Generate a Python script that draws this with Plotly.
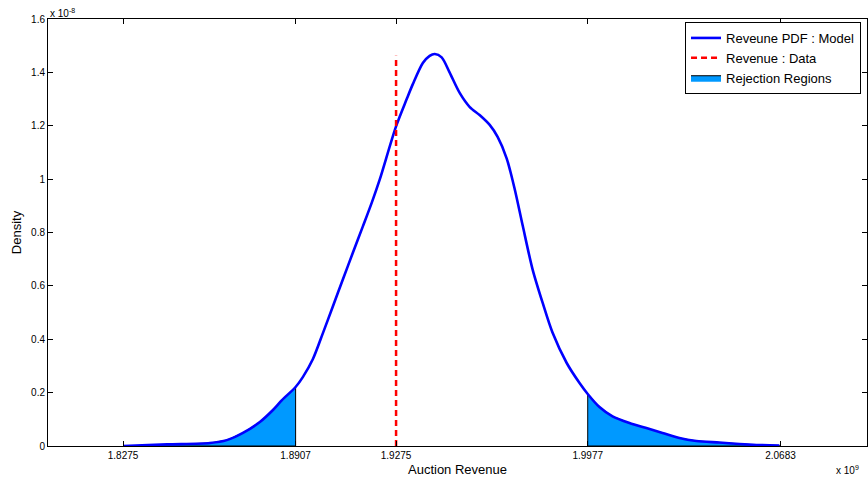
import plotly.graph_objects as go

# Revenue in units of 1e9, density in units of 1e-8
revenue = [1.8275, 1.8436, 1.8593, 1.8655, 1.8714, 1.8776, 1.8824, 1.8857, 1.8907,
           1.8934, 1.8970, 1.9007, 1.9043, 1.9080, 1.9117, 1.9153, 1.9186, 1.9215,
           1.9274, 1.9314, 1.9336, 1.9373, 1.9398, 1.9417, 1.9442, 1.9471, 1.9508,
           1.9545, 1.9581, 1.9618, 1.9647, 1.9680, 1.9709, 1.9739, 1.9775, 1.9812,
           1.9848, 1.9900, 1.9947, 1.9977, 2.0020, 2.0068, 2.0130, 2.0192, 2.0251,
           2.0313, 2.0375, 2.0459, 2.0533, 2.0595, 2.0679]
density = [0.000, 0.006, 0.011, 0.022, 0.049, 0.090, 0.135, 0.172, 0.221,
           0.259, 0.325, 0.423, 0.522, 0.624, 0.725, 0.822, 0.912, 0.998,
           1.195, 1.300, 1.355, 1.435, 1.462, 1.469, 1.456, 1.400, 1.323,
           1.270, 1.240, 1.203, 1.158, 1.078, 0.965, 0.825, 0.662, 0.536,
           0.425, 0.311, 0.236, 0.195, 0.146, 0.111, 0.086, 0.067, 0.049,
           0.030, 0.019, 0.013, 0.0075, 0.004, 0.002]

data_revenue = 1.9275
data_line_top = 1.4625
lower_cut = 1.8907
upper_cut = 1.9977

x_tickvals = [1.8275, 1.8907, 1.9275, 1.9977, 2.0683]
x_ticktext = ["1.8275", "1.8907", "1.9275", "1.9977", "2.0683"]
y_tickvals = [0, 0.2, 0.4, 0.6, 0.8, 1.0, 1.2, 1.4, 1.6]
y_ticktext = ["0", "0.2", "0.4", "0.6", "0.8", "1", "1.2", "1.4", "1.6"]

FONT = "Liberation Sans, Arial, Helvetica, sans-serif"
FILL = "#0099FF"

# Rejection region polygons built from the data
lx = [x for x in revenue if x <= lower_cut]
ly = [y for x, y in zip(revenue, density) if x <= lower_cut]
rx = [x for x in revenue if x >= upper_cut]
ry = [y for x, y in zip(revenue, density) if x >= upper_cut]

fig = go.Figure()
fig.add_trace(go.Scatter(
    x=[lx[0]] + lx + [lx[-1], lx[0]], y=[0] + ly + [0, 0],
    mode="lines", fill="toself", fillcolor=FILL,
    line=dict(color="black", width=1),
    name="Rejection Regions", legendgroup="rej", legendrank=3))
fig.add_trace(go.Scatter(
    x=[rx[0]] + rx + [rx[-1], rx[0]], y=[0] + ry + [0, 0],
    mode="lines", fill="toself", fillcolor=FILL,
    line=dict(color="black", width=1),
    name="Rejection Regions", legendgroup="rej", showlegend=False))
fig.add_trace(go.Scatter(
    x=revenue, y=density, mode="lines",
    line=dict(color="#0000FF", width=2.6, shape="spline", smoothing=0.8),
    name="Reveune PDF : Model", legendrank=1))
fig.add_trace(go.Scatter(
    x=[data_revenue, data_revenue], y=[0, data_line_top], mode="lines",
    line=dict(color="#FF0000", width=2.5, dash="6px,4px"),
    name="Revenue : Data", legendrank=2))

axis_common = dict(showline=True, linecolor="black", linewidth=1, mirror="ticks",
                   ticks="inside", ticklen=5, tickcolor="black", showgrid=False,
                   zeroline=False, tickfont=dict(family=FONT, size=10, color="black"))

fig.update_layout(
    width=868, height=481,
    margin=dict(l=48, r=1, t=19, b=35),
    paper_bgcolor="white", plot_bgcolor="white",
    font=dict(family=FONT, color="black"),
    xaxis=dict(range=[1.8, 2.1], tickvals=x_tickvals, ticktext=x_ticktext,
               title=dict(text="Auction Revenue", font=dict(size=13), standoff=4),
               **axis_common),
    yaxis=dict(range=[0, 1.6], tickvals=y_tickvals, ticktext=y_ticktext,
               title=dict(text="Density", font=dict(size=13), standoff=6),
               **axis_common),
    legend=dict(x=0.9927, y=0.993, xanchor="right", yanchor="top",
                bgcolor="white", bordercolor="black", borderwidth=1,
                font=dict(family=FONT, size=13, color="black"),
                tracegroupgap=0, itemwidth=30),
    showlegend=True,
)
fig.add_annotation(text="x 10<sup>-8</sup>", xref="paper", yref="paper",
                   x=0.0, y=1.0, xanchor="left", yanchor="bottom", showarrow=False,
                   font=dict(family=FONT, size=10, color="black"), yshift=-2)
fig.add_annotation(text="x 10<sup>9</sup>", xref="paper", yref="paper",
                   x=1.0, y=0.0, xanchor="right", yanchor="top", showarrow=False,
                   font=dict(family=FONT, size=10, color="black"), yshift=-16, xshift=-6)

fig.write_html("out.html", config={"displayModeBar": False},
               post_script="document.body.style.margin='0';"
                           "document.body.style.overflow='hidden';")
